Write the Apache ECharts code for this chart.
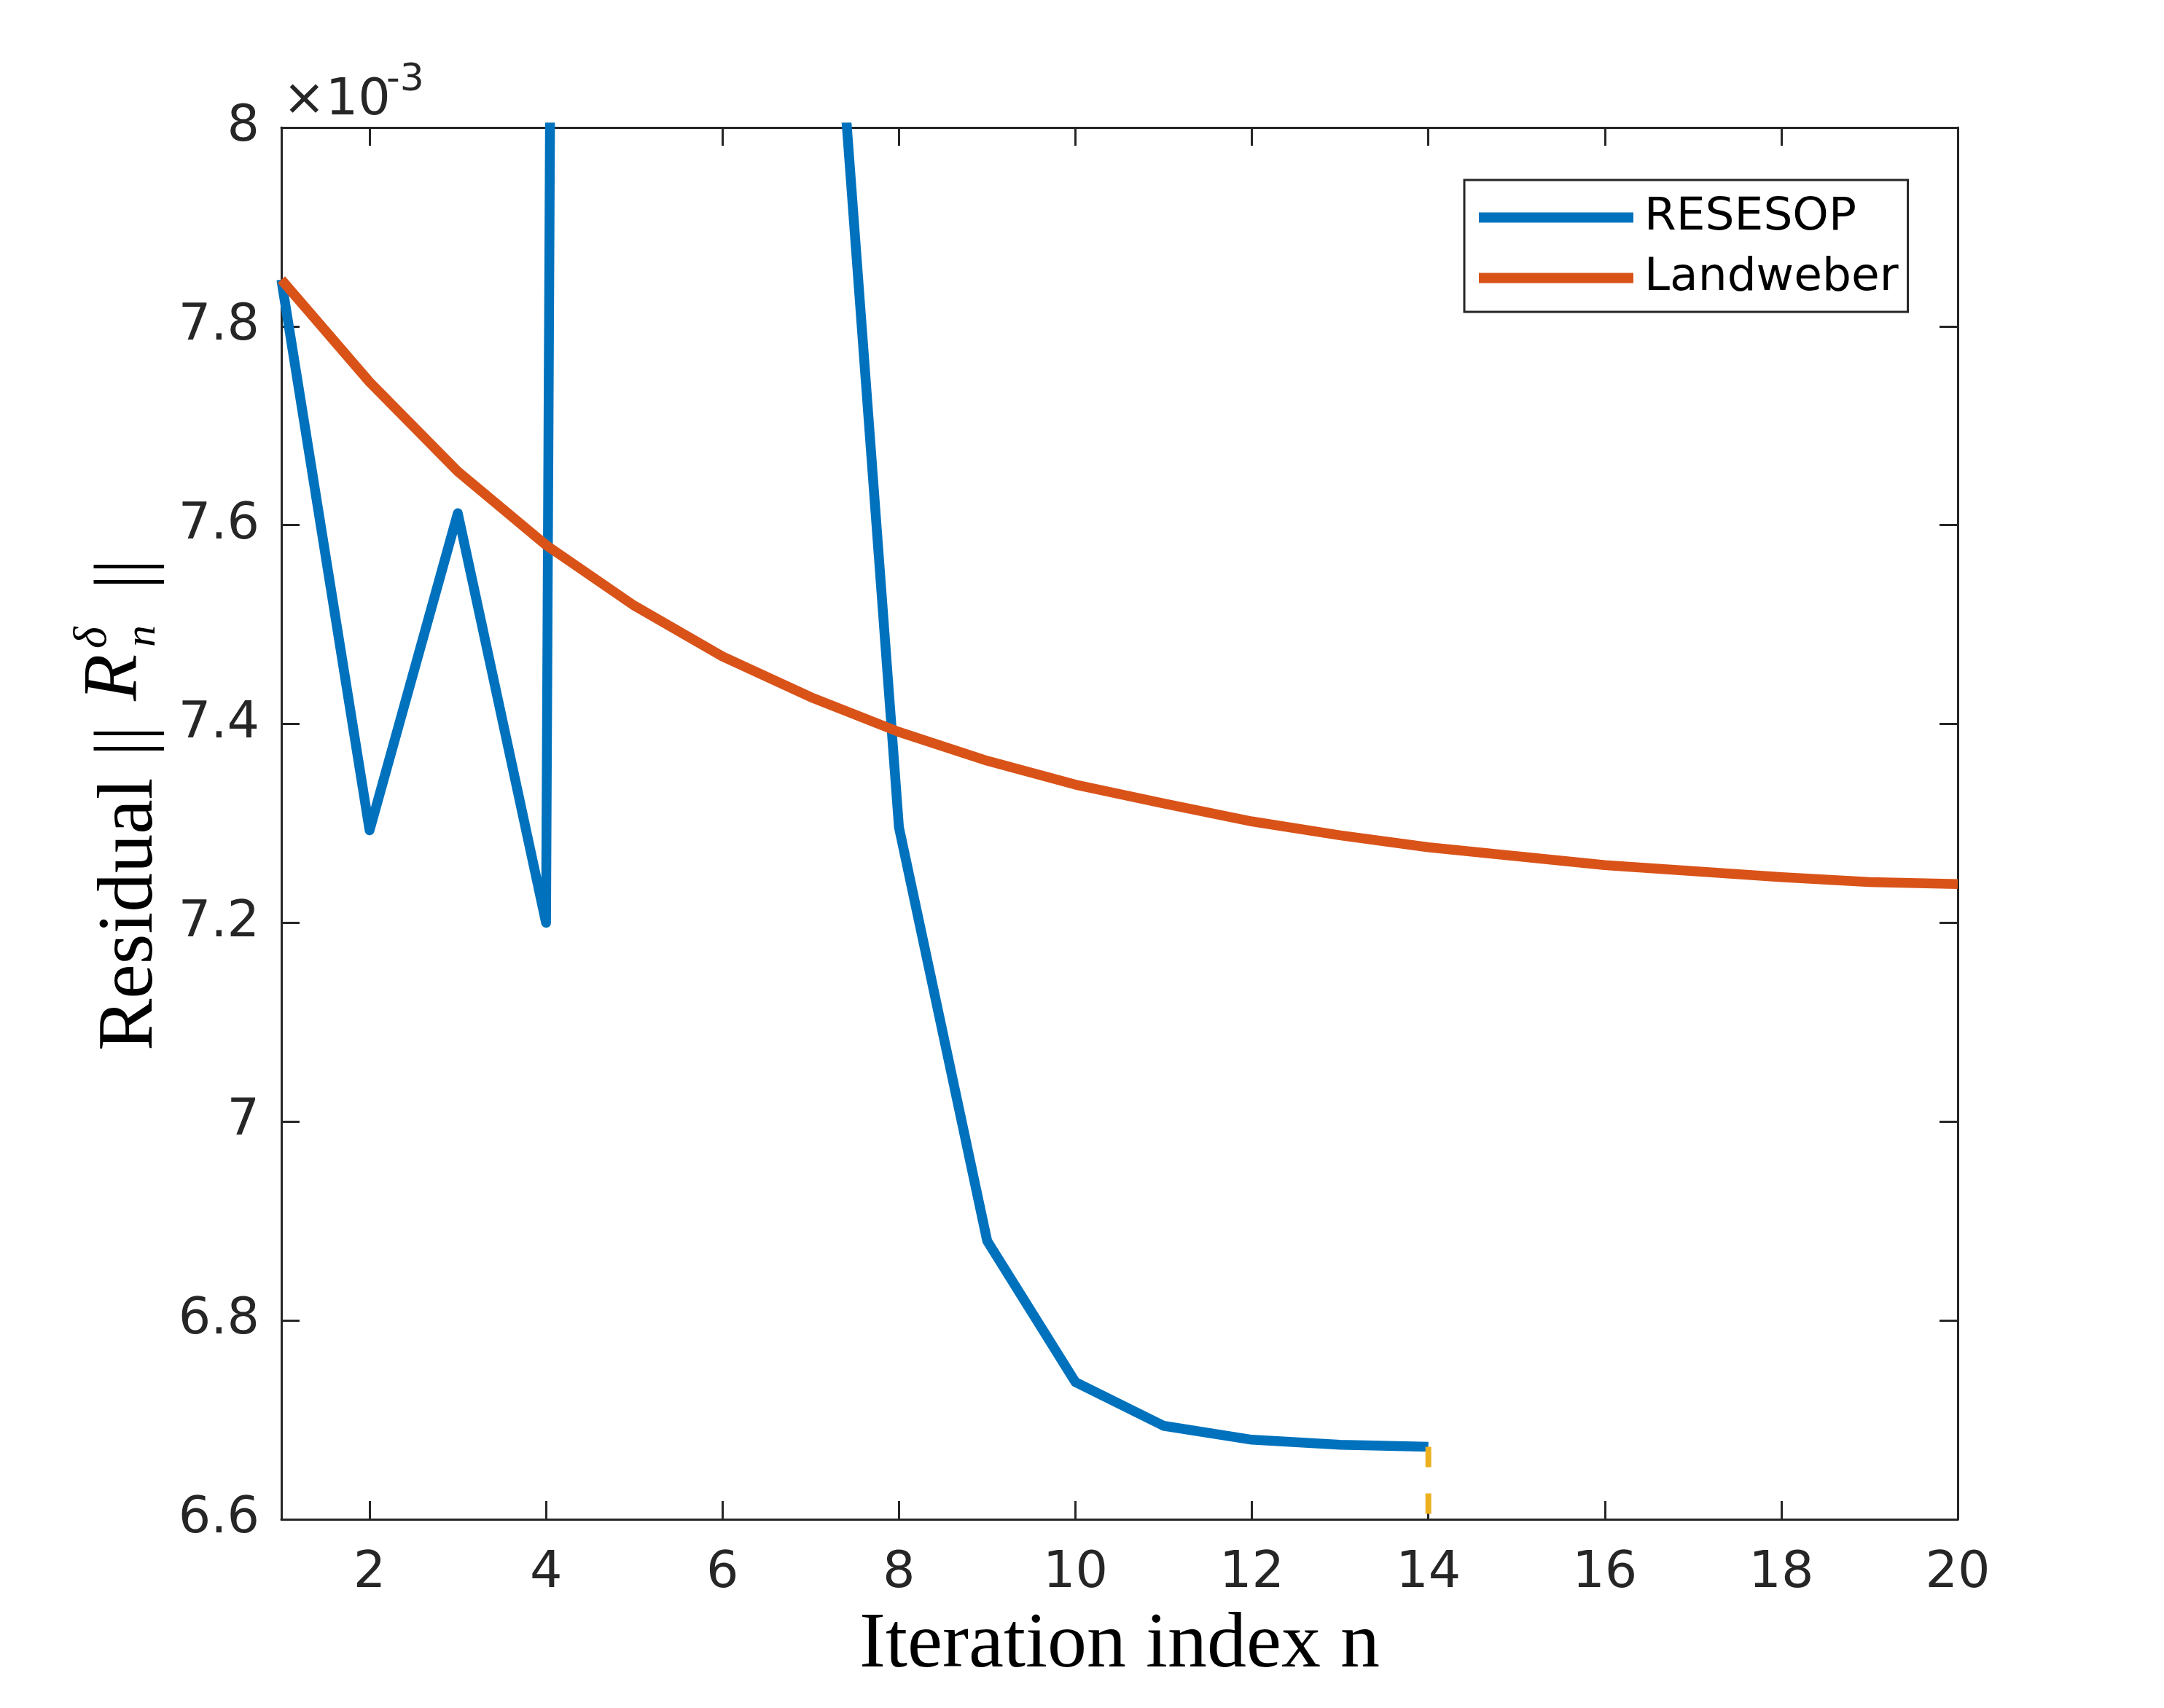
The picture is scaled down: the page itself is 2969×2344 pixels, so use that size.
<!DOCTYPE html>
<html>
  <head>
    <meta charset="utf-8" />
    <title>Residual vs iteration</title>
    <script src="https://cdn.jsdelivr.net/npm/echarts@6/dist/echarts.min.js"></script>
  </head>
  <body>
    <style>
      html, body { margin: 0; padding: 0; background: #fff; }
      #main { width: 2969px; height: 2344px; }
    </style>
    <div id="main"></div>
    <script type="text/javascript">
      // values in units of 1e-3
      var iterations = [1, 2, 3, 4, 5, 6, 7, 8, 9, 10, 11, 12, 13, 14, 15, 16, 17, 18, 19, 20];
      // n = 1..14 (5..7 go above the plotted range)
      var resesop = [7.847, 7.293, 7.612, 7.200, 25.0, 12.0, 8.49, 7.296, 6.880, 6.738, 6.694, 6.680, 6.675, 6.673];
      var landweber = [7.847, 7.744, 7.654, 7.580, 7.519, 7.468, 7.427, 7.392, 7.363, 7.339,
                       7.320, 7.302, 7.288, 7.276, 7.267, 7.258, 7.252, 7.246, 7.241, 7.239];
      var stopIndex = 14;
      var xTicks = [2, 4, 6, 8, 10, 12, 14, 16, 18, 20];
      var yTicks = [6.6, 6.8, 7, 7.2, 7.4, 7.6, 7.8, 8];
      var xRange = [1, 20];
      var yRange = [6.6, 8];

      var axisColor = '#262626';

      function pairs(ys) {
        return ys.map(function (y, i) { return [iterations[i], y]; });
      }

      var chart = echarts.init(document.getElementById('main'));

      function axisBase(pos, showLabel, ticks) {
        var isX = pos === 'bottom' || pos === 'top';
        return {
          type: 'value',
          position: pos,
          min: isX ? xRange[0] : yRange[0],
          max: isX ? xRange[1] : yRange[1],
          axisLine: { show: true, onZero: false, lineStyle: { color: axisColor, width: 3 } },
          axisTick: { show: true, inside: true, length: 25, customValues: ticks,
                      lineStyle: { color: axisColor, width: 3 } },
          axisLabel: {
            show: showLabel,
            customValues: ticks,
            margin: isX ? 40 : 30,
            color: axisColor,
            fontFamily: 'DejaVu Sans',
            fontSize: 70,
            formatter: function (v) { return String(Math.round(v * 10) / 10); }
          },
          splitLine: { show: false }
        };
      }

      var xBottom = axisBase('bottom', true, xTicks);
      xBottom.name = 'Iteration index n';
      xBottom.nameLocation = 'middle';
      xBottom.nameGap = 120;
      xBottom.nameTextStyle = { fontFamily: 'Liberation Serif', fontSize: 108, color: '#000' };

      var ylabelFont = 'Liberation Serif';

      var option = {
        animation: false,
        backgroundColor: '#fff',
        grid: { left: 386, right: 283, top: 175, bottom: 259, containLabel: false },
        xAxis: [xBottom, axisBase('top', false, xTicks)],
        yAxis: [axisBase('left', true, yTicks), axisBase('right', false, yTicks)],
        legend: {
          orient: 'vertical',
          left: 2009,
          top: 247,
          padding: [20, 13, 15, 20],
          itemGap: 20,
          itemWidth: 212,
          itemHeight: 14,
          backgroundColor: '#fff',
          borderColor: axisColor,
          borderWidth: 3,
          borderRadius: 0,
          textStyle: { fontFamily: 'DejaVu Sans', fontSize: 63, color: '#000', padding: [0, 0, 0, 10] },
          data: [
            { name: 'RESESOP', icon: 'rect', itemStyle: { color: '#0072BD' } },
            { name: 'Landweber', icon: 'rect', itemStyle: { color: '#D95319' } }
          ]
        },
        series: [
          {
            name: 'RESESOP',
            type: 'line',
            data: pairs(resesop),
            symbol: 'none',
            clip: true,
            color: '#0072BD',
            lineStyle: { color: '#0072BD', width: 13.5, join: 'round' }
          },
          {
            name: 'Landweber',
            type: 'line',
            data: pairs(landweber),
            symbol: 'none',
            clip: true,
            color: '#D95319',
            lineStyle: { color: '#D95319', width: 13.5, join: 'round' }
          },
          {
            name: 'stop',
            type: 'line',
            data: [[stopIndex, resesop[stopIndex - 1]], [stopIndex, yRange[0]]],
            symbol: 'none',
            clip: true,
            lineStyle: { color: '#EDB120', width: 8, type: [28, 36], cap: 'butt' }
          }
        ],
        graphic: [
          // x10^-3 exponent
          { type: 'text', x: 388, y: 139,
            style: { text: '\u00d710', font: '70px "DejaVu Sans"', fill: axisColor, align: 'left', verticalAlign: 'middle' } },
          { type: 'text', x: 530, y: 110,
            style: { text: '-3', font: '52px "DejaVu Sans"', fill: axisColor, align: 'left', verticalAlign: 'middle' } },
          // y axis label pieces, rotated to read upward
          { type: 'text', x: 180, y: 1442, rotation: Math.PI / 2,
            style: { text: 'Residual', font: '107px "' + ylabelFont + '"', fill: '#000', align: 'left', verticalAlign: 'middle' } },
          { type: 'text', x: 174, y: 1038, rotation: Math.PI / 2,
            style: { text: '||', font: '105px "' + ylabelFont + '"', fill: '#000', align: 'left', verticalAlign: 'middle' } },
          { type: 'text', x: 158, y: 962, rotation: Math.PI / 2,
            style: { text: 'R', font: 'italic 105px "' + ylabelFont + '"', fill: '#000', align: 'left', verticalAlign: 'middle' } },
          { type: 'text', x: 128, y: 890, rotation: Math.PI / 2,
            style: { text: '\u03b4', font: 'italic 64px "' + ylabelFont + '"', fill: '#000', align: 'left', verticalAlign: 'middle' } },
          { type: 'text', x: 196, y: 888, rotation: Math.PI / 2,
            style: { text: 'n', font: 'italic 60px "' + ylabelFont + '"', fill: '#000', align: 'left', verticalAlign: 'middle' } },
          { type: 'text', x: 174, y: 809, rotation: Math.PI / 2,
            style: { text: '||', font: '105px "' + ylabelFont + '"', fill: '#000', align: 'left', verticalAlign: 'middle' } }
        ]
      };

      chart.setOption(option);
    </script>
  </body>
</html>
